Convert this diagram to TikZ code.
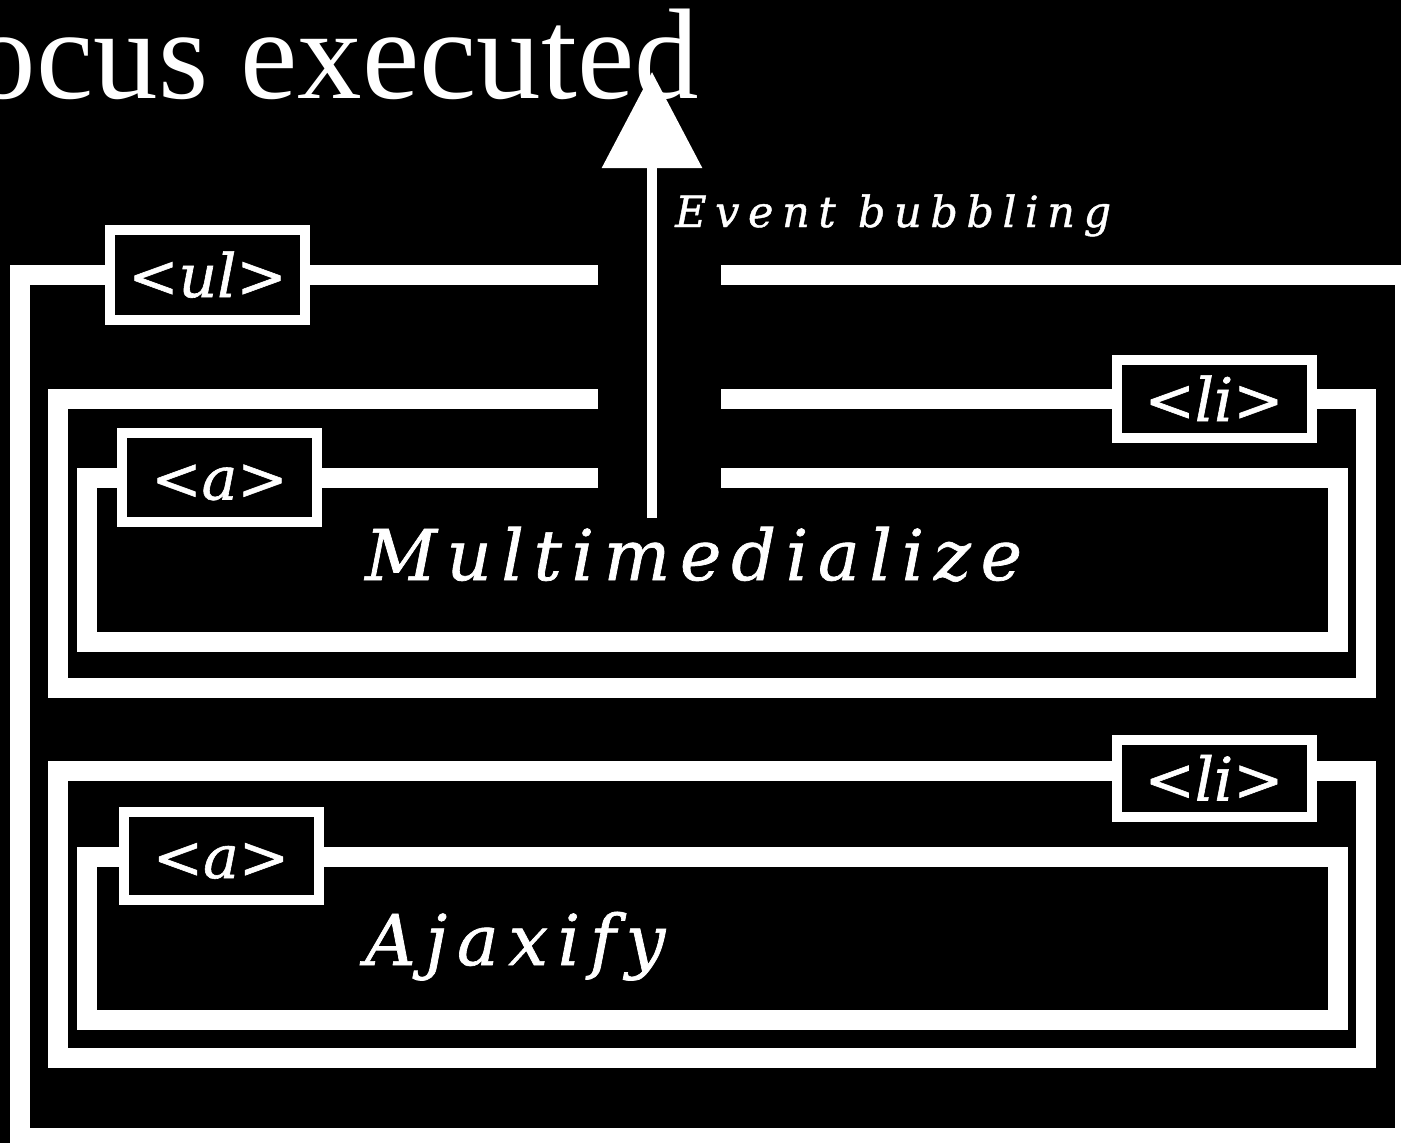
\documentclass[tikz,border=0pt]{standalone}
\usepackage{fontspec}
\setmainfont{Liberation Serif}
\newfontfamily\tagfont{DejaVu Serif}[FakeBold=1]
\newfontfamily\spacedfont{DejaVu Serif}[FakeBold=1, LetterSpace=14]
\usepackage{tikz}
\usetikzlibrary{arrows.meta}

\begin{document}
\begin{tikzpicture}[
    x=1pt, y=-1pt,
    frame/.style={draw=white, line width=20pt},
    tagbox/.style={draw=white, fill=black, line width=10pt, text=white,
                   font=\tagfont\itshape\fontsize{60}{60}\selectfont,
                   minimum width=195pt, inner sep=0pt,
                   text height=44pt, text depth=0pt},
    content/.style={text=white, anchor=base west, inner sep=0pt,
                    font=\spacedfont\itshape\fontsize{70}{70}\selectfont},
    bubble/.style={draw=white, line width=10pt,
                   -{Triangle[length=96pt, width=98pt]}}
]
    \useasboundingbox (0,0) rectangle (1401,1143);
    \fill[black] (0,0) rectangle (1401,1143);

    % --- Title ---
    \node[text=white, anchor=base east, inner sep=0pt,
          font=\fontsize{129}{129}\selectfont] (title) at (699,98)
        {ocus executed};

    % --- Frames (gap at the top for the arrow) ---
    \draw[frame] (598,275) -- (20,275) -- (20,1138) -- (1405,1138)
        -- (1405,275) -- (721,275);
    \draw[frame] (598,399) -- (58,399) -- (58,688) -- (1366,688)
        -- (1366,399) -- (721,399);
    \draw[frame] (598,477.5) -- (86.5,477.5) -- (86.5,642) -- (1338,642)
        -- (1338,477.5) -- (721,477.5);
    \draw[frame] (58,770.5) rectangle (1366,1058);
    \draw[frame] (86.5,857) rectangle (1338,1020);

    % --- Tags ---
    \node[tagbox, minimum height=90pt] (ultag)  at (207.5,275)  {<ul>};
    \node[tagbox, minimum height=78pt] (litag)  at (1214,399)   {<li>};
    \node[tagbox, minimum height=89pt] (atag)   at (219.5,477.5) {<a>};
    \node[tagbox, minimum height=77pt] (litagb) at (1214,778.5) {<li>};
    \node[tagbox, minimum height=88pt] (atagb)  at (221,856)    {<a>};

    % --- Link texts ---
    \node[content] (multi) at (365,580) {Multimedialize};
    \node[content] (ajax)  at (365,965) {Ajaxify};

    % --- Event bubbling ---
    \coordinate (bubblefoot) at (652,518);
    \coordinate (bubbletip)  at (652,72);
    \draw[bubble] (bubblefoot) -- (bubbletip);
    \node[content, font=\tagfont\itshape\addfontfeatures{LetterSpace=20}%
          \fontsize{43}{43}\selectfont] (evt) at (675,227) {Event bubbling};
\end{tikzpicture}
\end{document}
